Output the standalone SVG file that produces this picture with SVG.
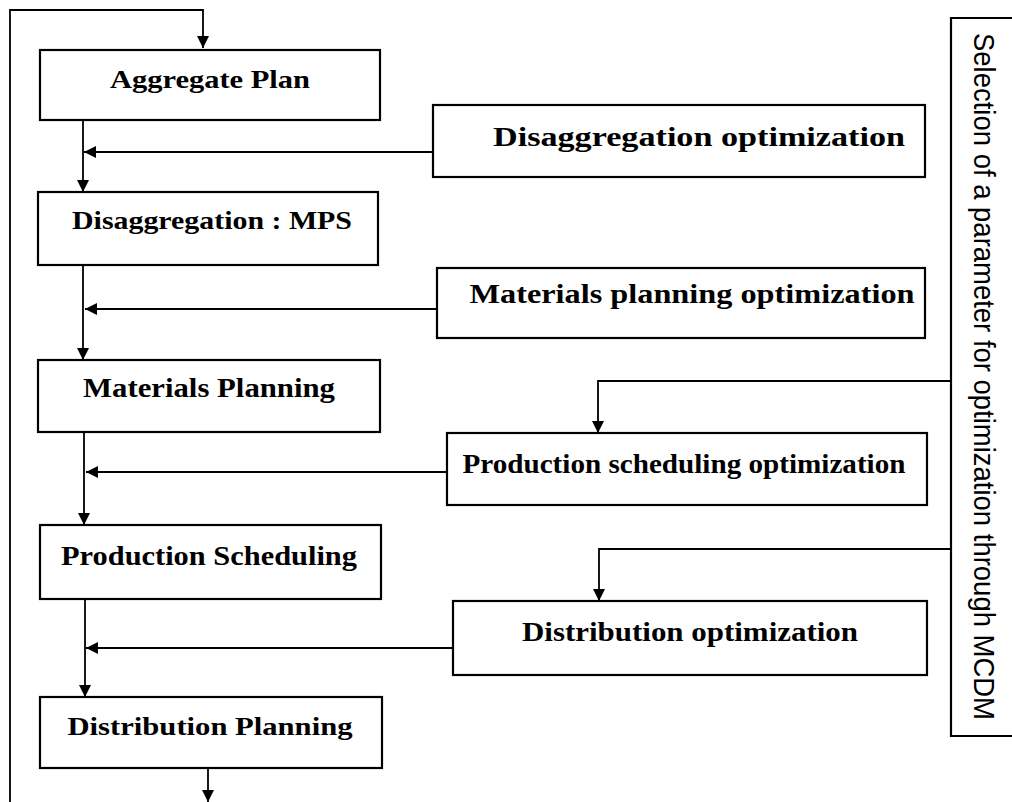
<svg xmlns="http://www.w3.org/2000/svg" width="1012" height="802" viewBox="0 0 1012 802">
<style>
.box{fill:#fff;stroke:#000;stroke-width:2.2}
.lbl{font-family:"Liberation Serif","Times New Roman",serif;font-weight:bold;fill:#000;text-anchor:middle}
.con{fill:none;stroke:#000;stroke-width:1.8}
.side{font-family:"Liberation Sans",Arial,sans-serif;fill:#000}
</style>
<defs>
<marker id="ah" markerWidth="12" markerHeight="12" viewBox="0 0 12 12" refX="12" refY="6" orient="auto" markerUnits="userSpaceOnUse">
<path d="M0,0 L12,6 L0,12 Z" fill="#000"/>
</marker>
</defs>
<rect width="1012" height="802" fill="#fff"/>
<g id="connectors">
<path class="con" d="M10,802 V10 H203 V48" marker-end="url(#ah)"/>
<path class="con" d="M83,120 V192" marker-end="url(#ah)"/>
<path class="con" d="M433,152 H84" marker-end="url(#ah)"/>
<path class="con" d="M83,265 V360" marker-end="url(#ah)"/>
<path class="con" d="M437,309 H85" marker-end="url(#ah)"/>
<path class="con" d="M951,381 H598 V433" marker-end="url(#ah)"/>
<path class="con" d="M84,432 V525" marker-end="url(#ah)"/>
<path class="con" d="M447,472 H86" marker-end="url(#ah)"/>
<path class="con" d="M951,549 H599 V601" marker-end="url(#ah)"/>
<path class="con" d="M85,599 V697" marker-end="url(#ah)"/>
<path class="con" d="M453,648 H86" marker-end="url(#ah)"/>
<path class="con" d="M208,768 V802" marker-end="url(#ah)"/>
</g>
<g id="aggregate-plan">
<rect class="box" x="40" y="50" width="340" height="70"/>
<text class="lbl" x="210" y="88" font-size="26" textLength="200" lengthAdjust="spacingAndGlyphs">Aggregate Plan</text>
</g>
<g id="disaggregation-optimization">
<rect class="box" x="433" y="105" width="492" height="72"/>
<text class="lbl" x="699" y="146" font-size="28" textLength="412" lengthAdjust="spacingAndGlyphs">Disaggregation optimization</text>
</g>
<g id="disaggregation-mps">
<rect class="box" x="38" y="192" width="340" height="73"/>
<text class="lbl" x="212" y="229" font-size="26" textLength="280" lengthAdjust="spacingAndGlyphs">Disaggregation : MPS</text>
</g>
<g id="materials-planning-optimization">
<rect class="box" x="437" y="268" width="488" height="70"/>
<text class="lbl" x="692" y="303" font-size="27" textLength="445" lengthAdjust="spacingAndGlyphs">Materials planning optimization</text>
</g>
<g id="materials-planning">
<rect class="box" x="38" y="360" width="342" height="72"/>
<text class="lbl" x="209" y="397" font-size="27" textLength="252" lengthAdjust="spacingAndGlyphs">Materials Planning</text>
</g>
<g id="production-scheduling-optimization">
<rect class="box" x="447" y="433" width="480" height="72"/>
<text class="lbl" x="684" y="473" font-size="27" textLength="443" lengthAdjust="spacingAndGlyphs">Production scheduling optimization</text>
</g>
<g id="production-scheduling">
<rect class="box" x="40" y="525" width="341" height="74"/>
<text class="lbl" x="209" y="565" font-size="27" textLength="296" lengthAdjust="spacingAndGlyphs">Production Scheduling</text>
</g>
<g id="distribution-optimization">
<rect class="box" x="453" y="601" width="474" height="74"/>
<text class="lbl" x="690" y="641" font-size="27" textLength="336" lengthAdjust="spacingAndGlyphs">Distribution optimization</text>
</g>
<g id="distribution-planning">
<rect class="box" x="40" y="697" width="342" height="71"/>
<text class="lbl" x="210" y="735" font-size="26" textLength="285" lengthAdjust="spacingAndGlyphs">Distribution Planning</text>
</g>
<g id="mcdm-selection">
<path class="box" d="M1012,18 H951 V736 H1012"/>
<text class="side" transform="translate(974,33) rotate(90)" x="0" y="0" font-size="29" textLength="687" lengthAdjust="spacingAndGlyphs">Selection of a parameter for optimization through MCDM</text>
</g>
</svg>
